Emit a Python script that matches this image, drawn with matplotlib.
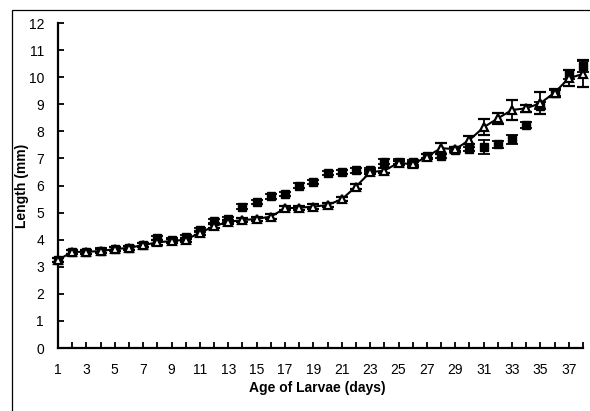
import matplotlib
matplotlib.use("Agg")
import matplotlib.pyplot as plt
from matplotlib.patches import Rectangle

plt.rcParams['font.family'] = ['Liberation Sans', 'DejaVu Sans']

days = list(range(1, 39))

# filled squares, no connecting line
filled = [3.25, 3.55, 3.55, 3.6, 3.65, 3.7, 3.8, 4.05, 4.0, 4.1,
          4.35, 4.7, 4.75, 5.22, 5.38, 5.6, 5.68, 6.0, 6.12, 6.45,
          6.5, 6.56, 6.58, 6.88, 6.88, 6.85, 7.1, 7.08, 7.3, 7.35,
          7.42, 7.52, 7.7, 8.23, 8.95, 9.42, 10.1, 10.4]
filled_err = [0.08] * 30 + [0.25, 0.12, 0.15, 0.12, 0.12, 0.12, 0.18, 0.2]

# open triangles, joined by a line
tri = [3.25, 3.55, 3.55, 3.58, 3.65, 3.7, 3.8, 3.9, 3.95, 4.0,
       4.25, 4.5, 4.66, 4.72, 4.77, 4.85, 5.16, 5.18, 5.22, 5.28,
       5.49, 5.96, 6.49, 6.55, 6.84, 6.78, 7.07, 7.38, 7.34, 7.68,
       8.15, 8.48, 8.79, 8.85, 9.04, 9.43, 9.96, 10.12]
tri_err = [0.08] * 27 + [0.2, 0.08, 0.15, 0.3, 0.2, 0.38, 0.12, 0.4, 0.15, 0.3, 0.5]

fig = plt.figure(figsize=(5.9, 4.11), dpi=100)
ax = fig.add_axes([58 / 590, 63 / 411, 525 / 590, 325 / 411])

c1 = ax.errorbar(days, filled, yerr=filled_err, fmt='s', color='black',
                 markersize=6, capsize=4.5, elinewidth=1.3, capthick=1.3,
                 zorder=2)
c2 = ax.errorbar(days, tri, yerr=tri_err, fmt='-^', color='black',
                 markerfacecolor='white', markeredgecolor='black',
                 markersize=6, markeredgewidth=1.6, linewidth=1.5,
                 capsize=4.5, elinewidth=1.3, capthick=1.3, zorder=3)
for cont in (c1, c2):
    for art in cont.get_children():
        art.set_clip_on(False)

ax.set_xlim(1, 38)
ax.set_ylim(0, 12)
ax.set_xticks(days)
ax.set_xticklabels([str(d) if d % 2 == 1 else '' for d in days])
ax.set_yticks(range(0, 13))

for side in ['top', 'right']:
    ax.spines[side].set_visible(False)
for side in ['left', 'bottom']:
    ax.spines[side].set_linewidth(1.6)
ax.tick_params(direction='in', length=4, width=1.3, labelsize=10)
ax.tick_params(axis='x', pad=11)
ax.tick_params(axis='y', pad=10)

ax.set_xlabel('Age of Larvae (days)', fontsize=10, fontweight='bold')
ax.set_ylabel('Length (mm)', fontsize=10, fontweight='bold')
ax.xaxis.set_label_coords(0.5 - 3 / 525, -0.1)
ax.yaxis.set_label_coords(-0.056, 0.5)

# outer frame like the source graphic
fig.patches.append(Rectangle((12 / 590, -0.1), 1.2, (411 - 10) / 411 + 0.1,
                             transform=fig.transFigure, fill=False,
                             edgecolor='black', linewidth=0.9))

fig.savefig('out.png', dpi=100)
